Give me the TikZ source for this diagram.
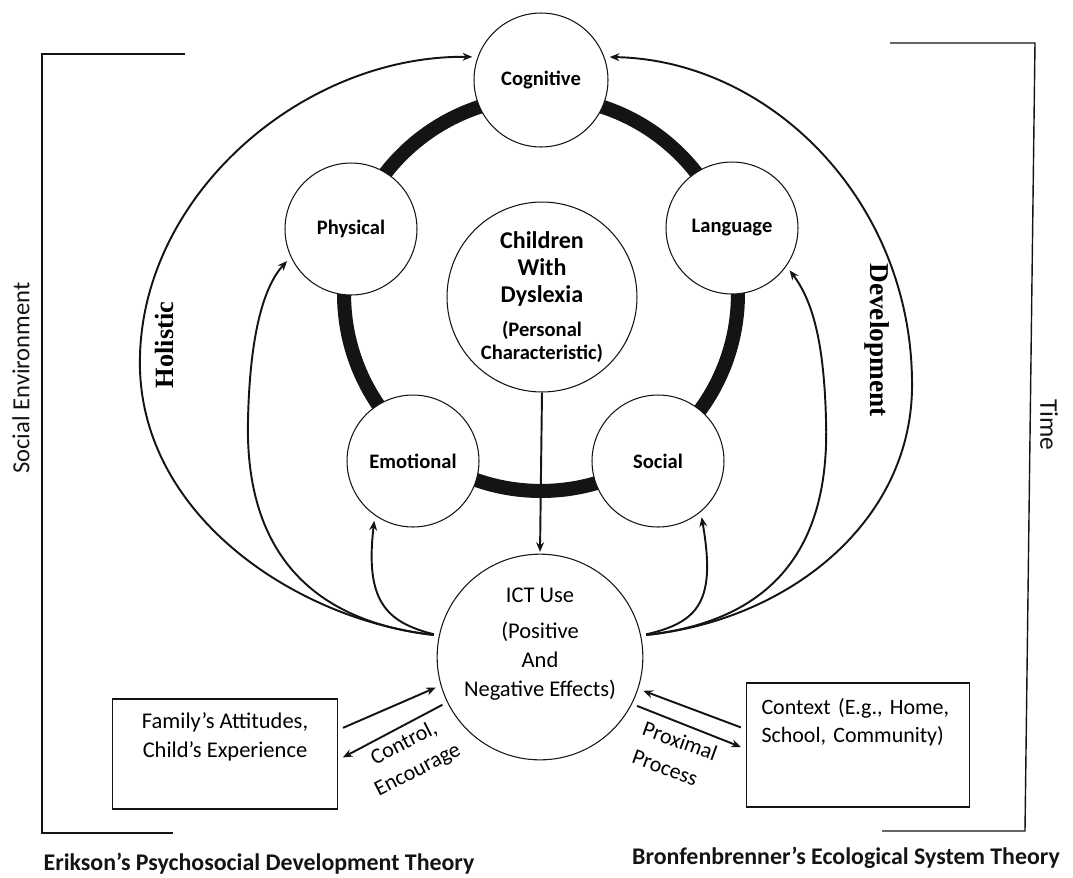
\documentclass[tikz,border=0pt]{standalone}
\usepackage{fontspec}
\setmainfont{Carlito}
\newfontfamily\titlefont{Liberation Serif}
\usetikzlibrary{arrows.meta,positioning,calc}
\definecolor{ink}{RGB}{20, 20, 20}

\begin{document}
\begin{tikzpicture}[
  x=0.02cm, y=-0.02cm,
  >={Stealth[length=5.5pt,width=4.5pt]},
  aspect/.style={
    circle,
    draw=ink,
    fill=white,
    line width=0.6pt,
    minimum size=2.64cm,
    inner sep=0pt,
    align=center,
    font=\fontsize{11.7}{13}\selectfont\bfseries
  },
  hub/.style={
    circle,
    draw=ink,
    fill=white,
    line width=0.6pt,
    inner sep=0pt,
    align=center
  },
  factor/.style={
    draw=ink,
    line width=0.8pt,
    font=\fontsize{12.8}{16.5}\selectfont
  },
  flow/.style={->, line width=1.1pt, draw=ink, shorten >=3pt, shorten <=3pt},
  frameline/.style={line width=0.8pt, draw=ink},
  sidelabel/.style={font=\fontsize{14}{16}\selectfont, text=ink},
  theory/.style={font=\fontsize{13.6}{16}\selectfont\bfseries, text=ink}
]

  \useasboundingbox (0,0) rectangle (1073,877);

  % Development ring
  \draw[ink, line width=8pt] (541,294) circle [radius=3.94cm];

  % Aspects of development
  \node[aspect, minimum size=2.68cm] (cog) at (541,80) {Cognitive};
  \node[aspect] (phys) at (351,229) {Physical};
  \node[aspect] (lang) at (732,228) {Language};
  \node[aspect] (emo) at (413,461) {Emotional};
  \node[aspect] (soc) at (658,461) {Social};

  % Child and ICT use
  \node[hub, minimum size=3.8cm, font=\fontsize{13.7}{15.5}\selectfont\bfseries] (child) at (542,297) {Children\\With\\Dyslexia\\[4pt]\fontsize{11.7}{15.5}\selectfont(Personal\\[-2.5pt]\fontsize{11.7}{15.5}\selectfont Characteristic)};
  \node[hub, minimum size=4.04cm, text depth=17pt, font=\fontsize{12.8}{16.5}\selectfont] (ict) at (540,657) {ICT Use\\[4pt](Positive\\And\\Negative Effects)};

  \draw[flow, shorten <=0pt, shorten >=1pt] (child.south) -- (ict.north);

  % Outer influences
  \node[factor, minimum width=4.5cm, minimum height=2.2cm, text depth=22pt, align=center] (fam) at (225,754) {Family’s Attitudes,\\Child’s Experience};
  \node[factor, minimum width=4.46cm, minimum height=2.48cm, text depth=44pt, inner xsep=0.3cm, text width=3.86cm, align=left, font=\fontsize{12.5}{16}\selectfont] (ctx) at (858,745) {Context (E.g., Home,\\School, Community)};

  \draw[flow] (fam.12) -- (ict.196);
  \draw[flow] (ict.206) -- (fam.-3);
  \draw[flow] (ctx.172) -- (ict.-18);
  \draw[flow] (ict.-27) -- (ctx.182);

  \node[font=\fontsize{12.5}{17}\selectfont, rotate=27, align=center] (ctrl) at (411,757) {Control,\\Encourage};
  \node[font=\fontsize{12.5}{17}\selectfont, rotate=-20, align=left] (prox) at (675,755) {Proximal\\Process};

  % ICT use feeding each aspect
  \draw[flow] (ict.168) .. controls (300,620) and (145,520) .. (140,370) .. controls (135,200) and (300,55) .. (cog.160);
  \draw[flow] (ict.168) .. controls (300,620) and (245,540) .. (248,420) .. controls (250,330) and (265,285) .. (phys.205);
  \draw[flow] (ict.168) .. controls (385,622) and (365,600) .. (emo.235);
  \draw[flow] (ict.12) .. controls (790,620) and (915,520) .. (912,380) .. controls (910,200) and (770,60) .. (cog.20);
  \draw[flow] (ict.12) .. controls (780,620) and (830,540) .. (826,420) .. controls (824,340) and (812,300) .. (lang.-35);
  \draw[flow] (ict.12) .. controls (700,622) and (716,600) .. (soc.-50);

  % Side Labels
  \node[rotate=90, font=\titlefont\bfseries\fontsize{15}{18}\selectfont] (holistic) at (164,345) {Holistic};
  \node[rotate=-90, font=\titlefont\bfseries\fontsize{15.5}{18}\selectfont] (devel) at (877,340) {Development};
  \node[sidelabel, rotate=90] (socenv) at (21,378) {Social Environment};
  \node[sidelabel, rotate=-90, font=\fontsize{14.5}{16}\selectfont] (time) at (1049,425) {Time};

  % Frames and theories
  \draw[frameline] (185,54) -- (42,54) -- (42,833) -- (173,833);
  \draw[frameline] (890,43) -- (1035,43) -- (1025,831) -- (882,831);
  \node[theory] (erikson) at (259,864) {Erikson’s Psychosocial Development Theory};
  \node[theory] (bronf) at (846,858) {Bronfenbrenner’s Ecological System Theory};

\end{tikzpicture}
\end{document}
